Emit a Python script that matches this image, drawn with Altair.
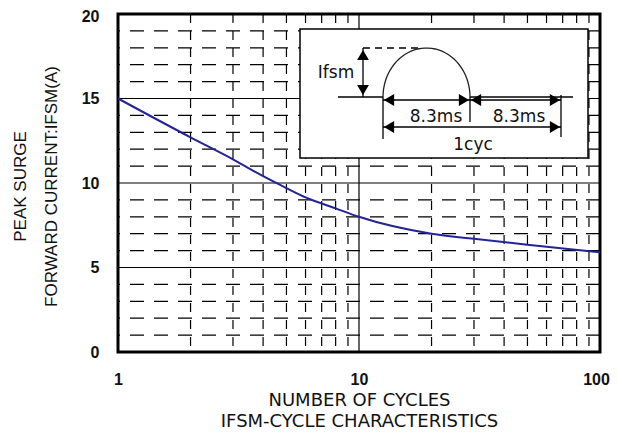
import altair as alt
import pandas as pd
import numpy as np

# ---- data ----
cycles = [1, 2, 3, 4, 5, 6, 8, 10, 20, 30, 50, 100]
ifsm = [15.0, 12.7, 11.4, 10.4, 9.7, 9.15, 8.5, 8.0, 7.0, 6.7, 6.35, 5.9]

x_major = [10]
x_minor = [2, 3, 4, 5, 6, 7, 8, 9, 20, 30, 40, 50, 60, 70, 80, 90]
y_major = [5, 10, 15]
y_minor = [1, 2, 3, 4, 6, 7, 8, 9, 11, 12, 13, 14, 16, 17, 18, 19]
x_ticks = [1, 10, 100]
y_ticks = [0, 5, 10, 15, 20]

W, H = 482, 338

xs = alt.Scale(type="log", domain=[1, 100], nice=False)
ys = alt.Scale(domain=[0, 20], nice=False)

x_axis = alt.Axis(values=x_ticks, format="d", grid=False, ticks=False, tickSize=0, domain=False,
                  labelPadding=19, labelFontSize=16, labelFontWeight="bold", labelFont="Liberation Sans",
                  labelColor="#111", labelFlush=False, labelBound=False, labelOverlap=False,
                  labelOffset={"condition": {"test": "datum.value == 100", "value": -4}, "value": 0},
                  title=["NUMBER OF CYCLES", "IFSM-CYCLE CHARACTERISTICS"],
                  titleFont="DejaVu Sans", titleFontSize=18, titleFontWeight="normal", titleColor="#111",
                  titleLineHeight=21, titleBaseline="middle", titleX=W / 2, titleY=48)
y_axis = alt.Axis(values=y_ticks, grid=False, ticks=False, tickSize=0, domain=False,
                  labelPadding=19, labelFontSize=16, labelFontWeight="bold", labelFont="Liberation Sans",
                  labelColor="#111", labelFlush=False, labelBound=False,
                  labelOffset={"condition": {"test": "datum.value == 20", "value": 2}, "value": 0},
                  title=["PEAK SURGE", "FORWARD CURRENT:IFSM(A)"],
                  titleFont="Liberation Sans", titleFontSize=17, titleFontWeight="normal", titleColor="#111",
                  titleLineHeight=31, titleAngle=-90, titleBaseline="middle", titleAlign="center",
                  titleX=-98, titleY=172)

curve_df = pd.DataFrame({"n": cycles, "i": ifsm})
base_axes = alt.Chart(curve_df).mark_line(opacity=0).encode(
    x=alt.X("n:Q", scale=xs, axis=x_axis), y=alt.Y("i:Q", scale=ys, axis=y_axis))

vminor = alt.Chart(pd.DataFrame({"v": x_minor})).mark_rule(
    color="black", strokeWidth=1.2, strokeDash=[9, 8]).encode(x=alt.X("v:Q", scale=xs))
hminor = alt.Chart(pd.DataFrame({"v": y_minor})).mark_rule(
    color="black", strokeWidth=1.2, strokeDash=[14, 10]).encode(y=alt.Y("v:Q", scale=ys))
vmajor = alt.Chart(pd.DataFrame({"v": x_major})).mark_rule(
    color="black", strokeWidth=1.2).encode(x=alt.X("v:Q", scale=xs))
hmajor = alt.Chart(pd.DataFrame({"v": y_major})).mark_rule(
    color="black", strokeWidth=1.2).encode(y=alt.Y("v:Q", scale=ys))

curve = alt.Chart(curve_df).mark_line(color="#23239a", strokeWidth=2, interpolate="monotone").encode(
    x=alt.X("n:Q", scale=xs), y=alt.Y("i:Q", scale=ys))

# ---- inset waveform diagram (plot-area pixel geometry) ----
box_df = pd.DataFrame({"x": [182], "x2": [470], "y": [15], "y2": [144]})
box = alt.Chart(box_df).mark_rect(fill="white", stroke="black", strokeWidth=1.5).encode(
    x=alt.X("x:Q", scale=None, axis=None), x2="x2:Q",
    y=alt.Y("y:Q", scale=None, axis=None), y2="y2:Q")

seg_x1 = [220, 352, 245, 265, 352, 443, 265, 352, 265]
seg_x2 = [265, 455, 245, 265, 352, 443, 352, 443, 443]
seg_y1 = [83, 83, 34, 83, 83, 81, 86, 86, 113]
seg_y2 = [83, 83, 83, 125, 108, 123, 86, 86, 113]
segs = alt.Chart(pd.DataFrame({"x": seg_x1, "x2": seg_x2, "y": seg_y1, "y2": seg_y2})).mark_rule(
    color="black", strokeWidth=1.3).encode(
    x=alt.X("x:Q", scale=None, axis=None), x2="x2:Q",
    y=alt.Y("y:Q", scale=None, axis=None), y2="y2:Q")

dash = alt.Chart(pd.DataFrame({"x": [245], "x2": [300], "y": [34], "y2": [34]})).mark_rule(
    color="black", strokeWidth=1.3, strokeDash=[7, 5]).encode(
    x=alt.X("x:Q", scale=None, axis=None), x2="x2:Q",
    y=alt.Y("y:Q", scale=None, axis=None), y2="y2:Q")

t = np.linspace(np.pi, 0, 40)
arc_df = pd.DataFrame({"k": range(40), "x": 308.5 + 43.5 * np.cos(t), "y": 83 - 49 * np.sin(t)})
arc = alt.Chart(arc_df).mark_line(color="#222", strokeWidth=1.3).encode(
    x=alt.X("x:Q", scale=None, axis=None), y=alt.Y("y:Q", scale=None, axis=None), order="k:Q")

head_x = [271, 346, 358, 437, 271, 437, 245, 245]
head_y = [86, 86, 86, 86, 113, 113, 41, 76]
head_s = ["triangle-left", "triangle-right", "triangle-left", "triangle-right",
          "triangle-left", "triangle-right", "triangle-up", "triangle-down"]
heads = alt.Chart(pd.DataFrame({"x": head_x, "y": head_y, "s": head_s})).mark_point(
    filled=True, color="black", size=140, opacity=1).encode(
    x=alt.X("x:Q", scale=None, axis=None), y=alt.Y("y:Q", scale=None, axis=None),
    shape=alt.Shape("s:N", scale=None, legend=None))

lbl_t = ["Ifsm", "8.3ms", "8.3ms", "1cyc"]
lbl_x = [218, 318, 401, 355]
lbl_y = [59, 103, 103, 131]
labels = alt.Chart(pd.DataFrame({"t": lbl_t, "x": lbl_x, "y": lbl_y})).mark_text(
    font="DejaVu Sans", fontSize=17, color="#111", align="center", baseline="middle").encode(
    x=alt.X("x:Q", scale=None, axis=None), y=alt.Y("y:Q", scale=None, axis=None), text="t:N")

chart = alt.layer(base_axes, vminor, hminor, vmajor, hmajor, curve,
                  box, segs, dash, arc, heads, labels).properties(
    width=W, height=H,
    autosize=alt.AutoSizeParams(type="none"),
    padding={"left": 110, "top": 6, "right": 10, "bottom": 77},
    background="white",
).configure_view(stroke="black", strokeWidth=3)

chart.save("out.html", embed_options={"renderer": "svg", "actions": False})
